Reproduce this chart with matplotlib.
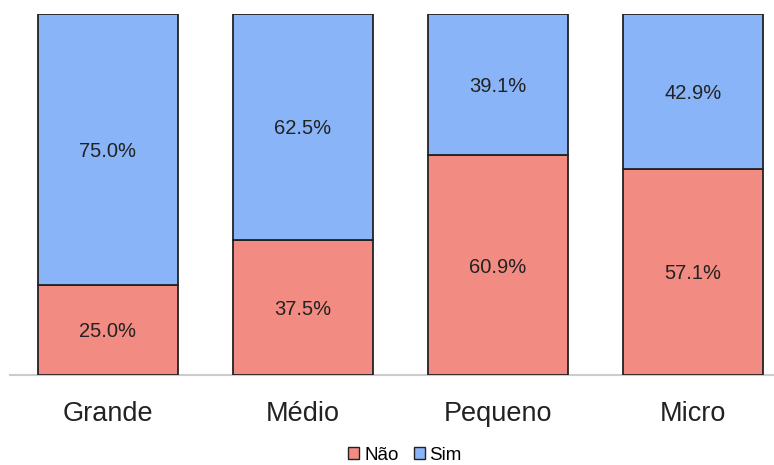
import matplotlib
matplotlib.use("Agg")
import matplotlib.pyplot as plt
from matplotlib.patches import Patch

plt.rcParams['font.family'] = ['Liberation Sans', 'DejaVu Sans']

categories = ["Grande", "Médio", "Pequeno", "Micro"]
nao = [25.0, 37.5, 60.9, 57.1]
sim = [75.0, 62.5, 39.1, 42.9]
series_names = ["Não", "Sim"]
color_nao = "#F28B82"
color_sim = "#8AB4F8"

fig = plt.figure(figsize=(7.74, 4.65), dpi=100)
ax = fig.add_axes([10 / 774, 1 - 375 / 465, 1 - 10 / 774, (375 - 14) / 465])

x = list(range(len(categories)))
w = 140 / 195
ax.bar(x, nao, width=w, color=color_nao, edgecolor="#222222", linewidth=1.3, zorder=2)
ax.bar(x, sim, width=w, bottom=nao, color=color_sim, edgecolor="#222222", linewidth=1.3, zorder=2)

for i in x:
    ax.text(i, nao[i] / 2, f"{nao[i]:.1f}%", ha="center", va="center_baseline", fontsize=14.5, color="#222222")
    ax.text(i, nao[i] + sim[i] / 2, f"{sim[i]:.1f}%", ha="center", va="center_baseline", fontsize=14.5, color="#222222")

ax.set_xlim(-98 / 195, 666 / 195)
ax.set_ylim(0, 100)
ax.set_yticks([])
ax.set_xticks(x)
ax.set_xticklabels(categories, fontsize=19.5, color="#222222")
ax.tick_params(axis="x", length=0, pad=19)
for s in ["top", "right", "left"]:
    ax.spines[s].set_visible(False)
ax.spines["bottom"].set_color("#cccccc")
ax.spines["bottom"].set_linewidth(1.5)
ax.spines["bottom"].set_zorder(1)

handles = [Patch(facecolor=color_nao, edgecolor="#222222", linewidth=1.0),
           Patch(facecolor=color_sim, edgecolor="#222222", linewidth=1.0)]
fig.legend(handles, series_names, loc="center", bbox_to_anchor=(405 / 774, 1 - 455 / 465),
           ncol=2, frameon=False, fontsize=13.5, handlelength=0.6, handleheight=0.6,
           handletextpad=0.25, columnspacing=0.8, borderpad=0)

fig.savefig("out.png", dpi=100)
